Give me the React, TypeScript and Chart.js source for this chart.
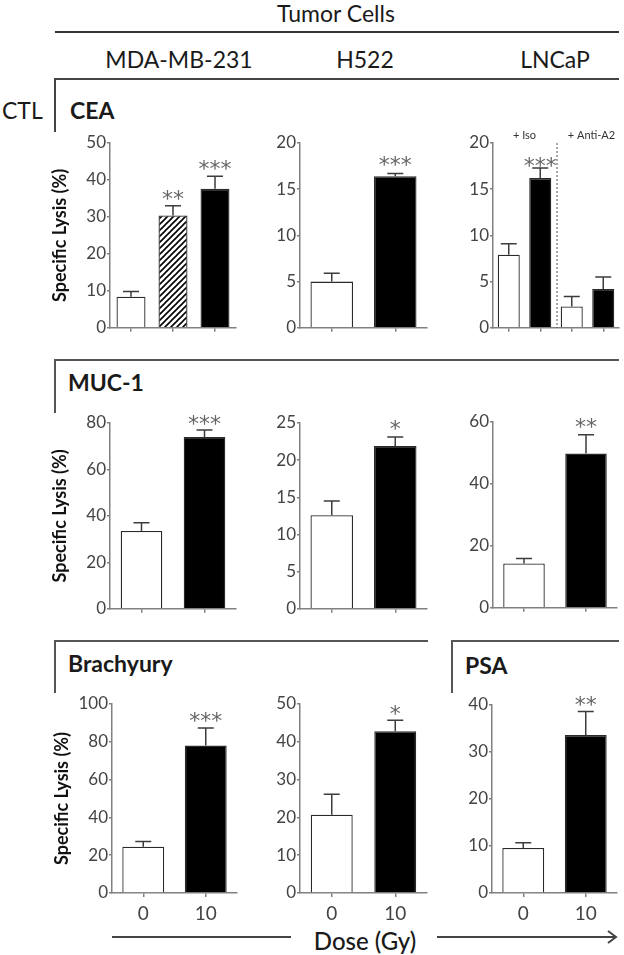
import React, { useEffect, useRef } from 'react';
import { Chart, registerables } from 'chart.js';
Chart.register(...registerables);

const FONT = 'Lato, "Open Sans", sans-serif';
const STAR_FONT = '"DejaVu Sans", sans-serif';

// ---------- data ----------
const doseLabels = ['0', '10'];
const ceaMdaLabels = ['0 Gy', 'Hatched', '10 Gy'];
const lncapCeaLabels = ['0 + Iso', '10 + Iso', '0 + Anti-A2', '10 + Anti-A2'];
const lncapGroupLabels = ['+ Iso', '+ Anti-A2'];

const ceaMdaValues = [8.4, 30.4, 37.6];
const ceaMdaErrors = [1.4, 2.6, 3.4];
const ceaMdaStars = ['', '**', '***'];

const ceaH522Values = [5.0, 16.4];
const ceaH522Errors = [0.9, 0.3];
const ceaH522Stars = ['', '***'];

const ceaLncapValues = [7.9, 16.2, 2.3, 4.2];
const ceaLncapErrors = [1.2, 1.1, 1.1, 1.3];
const ceaLncapStars = ['', '***', '', ''];

const mucMdaValues = [33.5, 74.0];
const mucMdaErrors = [3.6, 3.0];
const mucMdaStars = ['', '***'];

const mucH522Values = [12.6, 21.9];
const mucH522Errors = [1.9, 1.2];
const mucH522Stars = ['', '*'];

const mucLncapValues = [14.3, 49.8];
const mucLncapErrors = [1.6, 6.1];
const mucLncapStars = ['', '**'];

const brachMdaValues = [24.5, 78.0];
const brachMdaErrors = [2.8, 9.3];
const brachMdaStars = ['', '***'];

const brachH522Values = [20.7, 42.8];
const brachH522Errors = [5.4, 2.9];
const brachH522Stars = ['', '*'];

const psaLncapValues = [9.6, 33.6];
const psaLncapErrors = [1.1, 5.0];
const psaLncapStars = ['', '**'];

const twoFills = ['white', 'black'];
const ceaMdaFills = ['white', 'hatch', 'black'];
const ceaLncapFills = ['white', 'black', 'white', 'black'];

// ---------- panel layout ----------
type Panel = {
  labels: string[]; values: number[]; errors: number[]; stars: string[]; fills: string[];
  yMax: number; yStep: number;
  left: number; right: number; top: number; bottom: number;
  title: boolean; xLabels: boolean; barPct: number; starGap: number; groups?: string[];
};

const panels: Panel[] = [
  { labels: ceaMdaLabels, values: ceaMdaValues, errors: ceaMdaErrors, stars: ceaMdaStars, fills: ceaMdaFills, yMax: 50, yStep: 10, left: 110, right: 236, top: 143, bottom: 329, title: true, xLabels: false, barPct: 0.69, starGap: 13 },
  { labels: doseLabels, values: ceaH522Values, errors: ceaH522Errors, stars: ceaH522Stars, fills: twoFills, yMax: 20, yStep: 5, left: 300, right: 427, top: 143, bottom: 329, title: false, xLabels: false, barPct: 0.67, starGap: 15 },
  { labels: lncapCeaLabels, values: ceaLncapValues, errors: ceaLncapErrors, stars: ceaLncapStars, fills: ceaLncapFills, yMax: 20, yStep: 5, left: 493, right: 619, top: 143, bottom: 329, title: false, xLabels: false, barPct: 0.70, starGap: 8, groups: lncapGroupLabels },
  { labels: doseLabels, values: mucMdaValues, errors: mucMdaErrors, stars: mucMdaStars, fills: twoFills, yMax: 80, yStep: 20, left: 110, right: 236, top: 423, bottom: 610, title: true, xLabels: false, barPct: 0.66, starGap: 12 },
  { labels: doseLabels, values: mucH522Values, errors: mucH522Errors, stars: mucH522Stars, fills: twoFills, yMax: 25, yStep: 5, left: 300, right: 427, top: 423, bottom: 610, title: false, xLabels: false, barPct: 0.67, starGap: 14 },
  { labels: doseLabels, values: mucLncapValues, errors: mucLncapErrors, stars: mucLncapStars, fills: twoFills, yMax: 60, yStep: 20, left: 493, right: 617, top: 422, bottom: 609, title: false, xLabels: false, barPct: 0.67, starGap: 14 },
  { labels: doseLabels, values: brachMdaValues, errors: brachMdaErrors, stars: brachMdaStars, fills: twoFills, yMax: 100, yStep: 20, left: 112, right: 237, top: 704, bottom: 893, title: true, xLabels: true, barPct: 0.67, starGap: 13 },
  { labels: doseLabels, values: brachH522Values, errors: brachH522Errors, stars: brachH522Stars, fills: twoFills, yMax: 50, yStep: 10, left: 300, right: 427, top: 704, bottom: 893, title: false, xLabels: true, barPct: 0.66, starGap: 12 },
  { labels: doseLabels, values: psaLncapValues, errors: psaLncapErrors, stars: psaLncapStars, fills: twoFills, yMax: 40, yStep: 10, left: 492, right: 617, top: 705, bottom: 893, title: false, xLabels: true, barPct: 0.67, starGap: 13 },
];

const PAD_TOP = 26;
const PAD_RIGHT = 6;

function geom(p: Panel) {
  const leftW = p.title ? 65 : 40;
  const xH = p.xLabels ? 40 : 10;
  return {
    leftW, xH,
    x: p.left - leftW,
    y: p.top - PAD_TOP,
    w: leftW + (p.right - p.left) + PAD_RIGHT,
    h: PAD_TOP + (p.bottom - p.top) + xH,
  };
}

const AXIS = '#808080';
const TICK_TEXT = '#444';

const overlay = {
  id: 'overlay',
  afterDatasetsDraw(chart: any, _args: any, opts: any) {
    const p: Panel = opts.panel;
    const ctx: CanvasRenderingContext2D = chart.ctx;
    const meta = chart.getDatasetMeta(0);
    const ys = chart.scales.y;
    ctx.save();
    p.values.forEach((v, i) => {
      const x = meta.data[i].x;
      const y0 = ys.getPixelForValue(v);
      const y1 = ys.getPixelForValue(v + p.errors[i]);
      ctx.strokeStyle = '#3c3c3c';
      ctx.lineWidth = 1.5;
      ctx.beginPath();
      ctx.moveTo(x, y0);
      ctx.lineTo(x, y1);
      ctx.moveTo(x - 8, y1);
      ctx.lineTo(x + 8, y1);
      ctx.stroke();
      if (p.stars[i]) {
        const size = 22;
        ctx.font = `${size}px ${STAR_FONT}`;
        ctx.fillStyle = '#666';
        ctx.textAlign = 'center';
        ctx.textBaseline = 'alphabetic';
        ctx.fillText(p.stars[i], x, y1 - p.starGap + 0.6 * size);
      }
    });
    if (p.groups) {
      const area = chart.chartArea;
      const xm = (meta.data[1].x + meta.data[2].x) / 2 + 1;
      ctx.strokeStyle = '#555';
      ctx.lineWidth = 1;
      ctx.setLineDash([2, 2]);
      ctx.beginPath();
      ctx.moveTo(xm, area.top);
      ctx.lineTo(xm, area.bottom);
      ctx.stroke();
      ctx.setLineDash([]);
      ctx.font = `11px ${FONT}`;
      ctx.fillStyle = '#333';
      ctx.textAlign = 'center';
      ctx.textBaseline = 'middle';
      const g1 = (meta.data[0].x + meta.data[1].x) / 2;
      const g2 = (meta.data[2].x + meta.data[3].x) / 2 + 4;
      ctx.fillText(p.groups[0], g1, area.top - 8);
      ctx.fillText(p.groups[1], g2, area.top - 8);
    }
    ctx.restore();
  },
};

function hatch(ctx: CanvasRenderingContext2D) {
  const c = document.createElement('canvas');
  c.width = 6; c.height = 6;
  const g = c.getContext('2d')!;
  g.fillStyle = '#fff';
  g.fillRect(0, 0, 6, 6);
  g.strokeStyle = '#000';
  g.lineWidth = 1.6;
  g.beginPath();
  g.moveTo(0, 6); g.lineTo(6, 0);
  g.moveTo(-1, 1); g.lineTo(1, -1);
  g.moveTo(5, 7); g.lineTo(7, 5);
  g.stroke();
  return ctx.createPattern(c, 'repeat');
}

function makeChart(canvas: HTMLCanvasElement, p: Panel) {
  const g = geom(p);
  const ctx = canvas.getContext('2d')!;
  const pat = hatch(ctx);
  const bg = p.fills.map(f => (f === 'hatch' ? pat : f === 'black' ? '#000' : '#fff'));
  return new Chart(canvas, {
    type: 'bar',
    data: {
      labels: p.labels,
      datasets: [{
        data: p.values,
        backgroundColor: bg as any,
        borderColor: '#2a2a2a',
        borderWidth: 1.3,
        barPercentage: p.barPct,
        categoryPercentage: 1,
      }],
    },
    options: {
      responsive: false,
      animation: false,
      devicePixelRatio: 1,
      layout: { padding: { top: PAD_TOP, right: PAD_RIGHT, left: 0, bottom: 0 } },
      plugins: { legend: { display: false }, tooltip: { enabled: false }, overlay: { panel: p } } as any,
      scales: {
        x: {
          type: 'category',
          offset: true,
          grid: { display: true, drawOnChartArea: false, drawTicks: true, tickLength: 4, offset: false, color: AXIS, lineWidth: 1.5 },
          border: { display: true, color: AXIS, width: 1.5 },
          ticks: { display: p.xLabels, font: { family: FONT, size: 19 }, color: TICK_TEXT, padding: 5 },
          afterFit: (s: any) => { s.height = g.xH; },
        },
        y: {
          min: 0,
          max: p.yMax,
          ticks: { stepSize: p.yStep, font: { family: FONT, size: 17 }, color: TICK_TEXT, padding: 1 },
          grid: { display: true, drawOnChartArea: false, drawTicks: true, tickLength: 3, color: AXIS, lineWidth: 1.5 },
          border: { display: true, color: AXIS, width: 1.5 },
          title: { display: p.title, text: 'Specific Lysis (%)', font: { family: FONT, size: 18, weight: 'bold' }, color: '#111', padding: { top: 4, bottom: 0 } },
          afterFit: (s: any) => { s.width = g.leftW; },
        },
      },
    },
    plugins: [overlay as any],
  });
}

const txt = (style: React.CSSProperties): React.CSSProperties => ({
  position: 'absolute', lineHeight: 1, whiteSpace: 'nowrap', fontSize: 23, color: '#1a1a1a', ...style,
});

export default function App() {
  const refs = useRef<(HTMLCanvasElement | null)[]>([]);
  useEffect(() => {
    const charts = panels.map((p, i) => makeChart(refs.current[i]!, p));
    return () => charts.forEach(c => c.destroy());
  }, []);
  const center = 'translate(-50%, -50%)';
  const vmid = 'translateY(-50%)';
  return (
    <div style={{ position: 'absolute', left: 0, top: 0, width: 624, height: 955, background: '#fff', fontFamily: FONT, overflow: 'hidden' }}>
      <svg width={624} height={955} style={{ position: 'absolute', left: 0, top: 0 }}>
        <line x1={55} y1={32} x2={619} y2={32} stroke="#333" strokeWidth={2} />
        <path d="M55,132 V79 H619" fill="none" stroke="#444" strokeWidth={2} />
        <path d="M55,413 V360 H619" fill="none" stroke="#555" strokeWidth={2} />
        <path d="M55,693 V641 H428" fill="none" stroke="#555" strokeWidth={2} />
        <path d="M452,693 V641 H619" fill="none" stroke="#555" strokeWidth={2} />
        <line x1={112} y1={937} x2={291} y2={937} stroke="#444" strokeWidth={2} />
        <line x1={437} y1={937} x2={616} y2={937} stroke="#444" strokeWidth={2} />
        <polyline points="608,931 616,937 608,943" fill="none" stroke="#444" strokeWidth={2} />
      </svg>
      <div style={txt({ left: 336, top: 13, transform: center })}>Tumor Cells</div>
      <div style={txt({ left: 179, top: 59, transform: center })}>MDA-MB-231</div>
      <div style={txt({ left: 365, top: 59, transform: center })}>H522</div>
      <div style={txt({ left: 555, top: 59, transform: center })}>LNCaP</div>
      <div style={txt({ left: 2, top: 110, transform: vmid })}>CTL</div>
      <div style={txt({ left: 70, top: 110, transform: vmid, fontWeight: 700 })}>CEA</div>
      <div style={txt({ left: 68, top: 382, transform: vmid, fontWeight: 700 })}>MUC-1</div>
      <div style={txt({ left: 68, top: 663, transform: vmid, fontWeight: 700 })}>Brachyury</div>
      <div style={txt({ left: 465, top: 665, transform: vmid, fontWeight: 700 })}>PSA</div>
      <div style={txt({ left: 365, top: 941, transform: center, fontSize: 24, fontWeight: 500 })}>Dose (Gy)</div>
      {panels.map((p, i) => {
        const g = geom(p);
        return (
          <canvas
            key={i}
            ref={el => { refs.current[i] = el; }}
            width={g.w}
            height={g.h}
            style={{ position: 'absolute', left: g.x, top: g.y, width: g.w, height: g.h }}
          />
        );
      })}
    </div>
  );
}
